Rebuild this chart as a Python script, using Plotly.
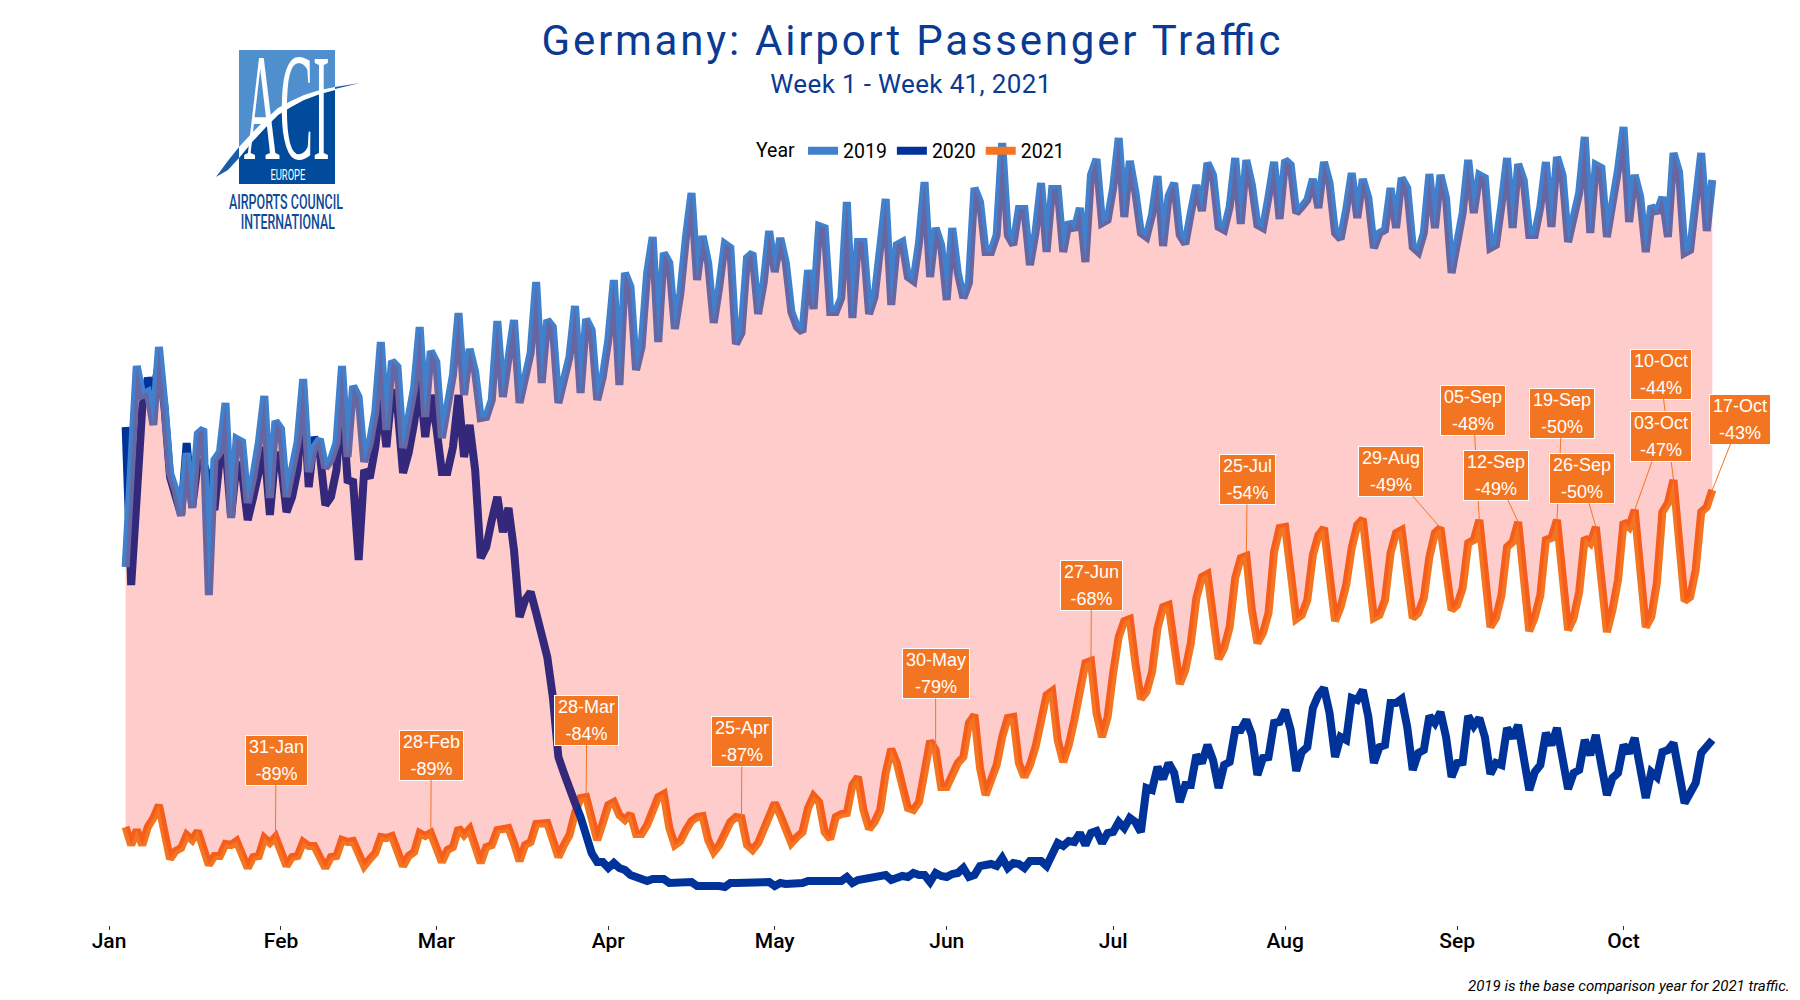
import pandas as pd
import plotly.graph_objects as go

start_date = "2019-01-04"
series_2019 = [
 329,426,530,501,504,471,549,491,423,406, 380,443,388,462,467,301,436,444,493,378,
 457,454,393,419,453,500,398,475,467,399, 426,454,517,424,449,457,428,436,453,530,
 439,510,499,434,453,484,554,466,535,529, 448,478,508,569,479,545,534,458,486,521,
 583,501,547,524,478,479,496,575,499,546, 576,493,519,543,614,513,576,569,493,513,
 539,590,503,577,566,496,519,556,616,511, 623,609,526,549,623,659,554,643,633,567,
 603,659,703,616,660,633,573,609,652,648, 552,563,638,643,582,613,665,624,658,633,
 584,569,564,626,587,670,668,584,584,598, 694,578,654,654,582,599,643,697,591,651,
 654,619,615,653,714,619,668,651,596,668, 623,598,613,708,694,644,644,661,753,661,
 651,687,687,631,663,713,644,707,707,644, 674,666,688,634,721,737,673,676,708,758,
 679,735,704,663,659,681,720,650,700,713, 661,652,683,711,685,733,721,669,666,689,
 738,672,736,711,671,668,699,734,677,736, 731,683,689,696,717,688,734,713,663,657,
 686,723,678,717,698,648,663,666,708,668, 718,708,649,644,663,722,668,721,698,623,
 653,683,736,683,721,718,648,651,691,738, 668,732,716,661,661,689,734,669,739,721,
 654,678,703,759,663,731,728,659,688,726, 769,674,721,699,644,690,683,699,659,743,
 724,643,646,689,743,665,716]
series_2020 = [
 469,311,399,489,518,503,533,489,419,403, 381,453,389,433,434,416,386,439,449,379,
 433,423,376,399,426,449,381,443,433,384, 399,426,506,409,459,443,391,399,426,499,
 416,414,336,426,418,449,499,449,506,489, 423,443,473,516,459,501,469,424,424,449,
 501,439,471,426,338,349,376,399,364,388, 346,279,296,304,283,263,239,199,139,123,
 106,93,79,63,43,34,34,28,33,28, 26,21,19,18,15,17,18,17,13,13,
 14,14,14,10,10,11,12,10,9,13, 13,13,13,14,13,13,14,10,13,12,
 12,13,13,15,15,14,14,14,14,15, 19,13,16,17,17,17,18,21,16,19,
 20,19,23,21,21,14,23,20,19,22, 23,28,19,21,30,31,32,30,38,28,
 33,32,28,35,36,35,30,41,53,50, 55,54,63,51,63,65,53,63,64,74,
 68,78,74,64,108,106,129,117,133,123, 94,111,111,141,133,151,136,108,131,134,
 166,166,176,161,121,138,139,173,174,186, 166,125,144,149,188,201,208,183,139,159,
 156,198,196,206,179,133,149,151,193,193, 197,169,126,143,146,180,173,184,159,119,
 133,134,180,170,178,159,122,133,131,168, 158,171,143,106,124,131,163,151,168,139,
 107,123,126,156,141,161,133,101,118,123, 151,143,158,131,98,124,119,144,146,153,
 126,93,103,113,143,151,156]
series_2021 = [
 69,51,66,51,69,78,91,58,37,45, 48,61,56,65,48,31,40,40,52,51,
 55,43,28,39,40,58,53,59,45,30, 39,40,54,50,50,39,28,39,40,56,
 54,55,42,30,37,43,59,58,60,44, 30,40,44,63,60,63,49,34,46,49,
 68,61,67,49,33,49,51,66,66,68, 53,35,51,54,72,73,73,56,39,51,
 61,83,98,99,79,56,73,91,94,81, 76,82,62,62,71,83,99,102,68,51,
 55,66,75,79,80,56,44,51,61,74, 79,78,51,46,53,68,81,93,81,66,
 53,59,64,88,100,94,64,57,79,82, 83,111,119,86,67,74,86,123,147,133,
 106,88,86,94,124,155,146,109,109,123, 133,139,173,181,128,101,114,131,159,178,
 179,133,119,131,149,176,201,205,156,134, 151,176,209,233,235,183,159,179,223,259,
 275,277,233,197,204,224,268,289,291,244, 212,226,253,298,319,322,279,237,248,269,
 318,338,340,286,253,263,283,344,368,369, 324,277,281,296,341,361,368,318,275,289,
 311,348,371,377,329,278,281,296,343,363, 366,324,278,283,298,339,363,368,319,286,
 291,308,353,356,376,319,269,278,301,349, 354,374,316,265,279,301,356,358,376,313,
 266,278,304,358,353,369,313,264,286,316, 374,369,386,326,269,279,313,384,393,416,
 349,295,299,326,384,389,406]

month_ticks = ["2019-%02d-01" % m for m in range(1, 11)]
month_labels = ["Jan","Feb","Mar","Apr","May","Jun","Jul","Aug","Sep","Oct"]

label_dates = ["2019-01-31","2019-02-28","2019-03-28","2019-04-25","2019-05-30","2019-06-27","2019-07-25",
               "2019-08-29","2019-09-05","2019-09-12","2019-09-19","2019-09-26","2019-10-10","2019-10-03","2019-10-17"]
label_pct = [-89,-89,-84,-87,-79,-68,-54,-49,-48,-49,-50,-50,-44,-47,-43]
label_dx = [0.6,0.5,0.7,0.5,0,0.5,1,-49.5,-6,-22,5,-14,-13,26.3,28]
label_dy = [-77,-78,-77,-76.5,-76.5,-76,-76.5,-57,-110,-47,-107,-49,-106,-73.5,-71]

BLUE, NAVY, ORANGE = "#4080CC", "#003399", "#F47521"
INK = "#0B3A92"
ML, MR, MT, MB = 109, 10, 100, 75
W, H = 1800, 1000
fx = lambda px: (px - ML) / (W - ML - MR)
fy = lambda py: 1 - (py - MT) / (H - MT - MB)

dates = pd.date_range(start_date, periods=len(series_2019))
assert len(series_2019) == len(series_2020) == len(series_2021) == 287
LW = 8
fig = go.Figure()
for name, vals, col in [("2021", series_2021, ORANGE), ("2020", series_2020, NAVY), ("2019", series_2019, BLUE)]:
    fig.add_trace(go.Scatter(x=dates, y=vals, mode="lines", name=name,
                             line=dict(color=col, width=LW), hoverinfo="x+y+name"))
fig.add_trace(go.Scatter(x=list(dates) + list(dates[::-1]), y=series_2019 + series_2021[::-1],
                         mode="lines", fill="toself", fillcolor="rgba(255,0,0,0.2)",
                         line=dict(width=0), showlegend=False, hoverinfo="skip"))

ann = []
for d, p, dx, dy in zip(label_dates, label_pct, label_dx, label_dy):
    ts = pd.Timestamp(d)
    v = series_2021[(ts - dates[0]).days]
    ann.append(dict(x=ts, y=v, xref="x", yref="y", ax=dx, ay=dy, text=f"{ts.strftime('%d-%b')}<br>{p}%",
                    showarrow=True, arrowhead=0, arrowwidth=1, arrowcolor=ORANGE, standoff=0,
                    bgcolor=ORANGE, bordercolor="white", borderwidth=1, borderpad=3,
                    font=dict(family="Liberation Sans", size=18, color="white"), align="center"))

def text(px, py, s, size, color, family="Roboto", xanchor="center", **kw):
    return dict(x=fx(px), y=fy(py), xref="paper", yref="paper", text=s, showarrow=False,
                xanchor=xanchor, yanchor="middle", font=dict(family=family, size=size, color=color, **kw))

ann += [
    text(911, 84, "Week 1 - Week 41, 2021", 26, INK),
    text(1792, 986, "2019 is the base comparison year for 2021 traffic.", 15, "black", xanchor="right", style="italic"),
    text(287, 108, "ACI", 153, "white", family="Liberation Serif"),
    text(287.5, 175, "EUROPE", 15, "white"),
    text(286, 202, "AIRPORTS COUNCIL", 21, "#0F4A96", weight=500),
    text(288, 222, "INTERNATIONAL", 21, "#0F4A96", weight=500),
]

def path(pts):
    return "M" + " L".join(f"{fx(a):.5f},{fy(b):.5f}" for a, b in pts) + " Z"

upper = [(239,147),(253,132),(266,119),(278,108),(291,101),(304,95),(320,90),(335,87)]
lower = [(335,90),(320,94),(304,100),(291,107),(278,115),(266,127),(253,141),(239,158)]
shapes = [
    dict(type="path", xref="paper", yref="paper", layer="below", line_width=0, fillcolor="#1B5CA8",
         path=path([(216,177),(227,162)] + upper + [(360,83),(335,89)] + lower + [(228,170)])),
    dict(type="rect", xref="paper", yref="paper", layer="below", line_width=0, fillcolor="#4F8FCD",
         x0=fx(239), x1=fx(335), y0=fy(184), y1=fy(50)),
    dict(type="path", xref="paper", yref="paper", layer="below", line_width=0, fillcolor="#004B9B",
         path=path(lower + [(239,184),(335,184)])),
    dict(type="path", xref="paper", yref="paper", layer="below", line_width=0, fillcolor="white",
         path=path(upper + lower)),
]

fig.update_layout(
    width=W, height=H, margin=dict(l=ML, r=MR, t=MT, b=MB), plot_bgcolor="white", paper_bgcolor="white",
    title=dict(text="Germany: Airport Passenger Traffic", x=911/W, xanchor="center", y=1-40/H, yanchor="middle",
               font=dict(family="Roboto", size=42, color=INK)),
    xaxis=dict(type="date", range=["2019-01-01", "2019-10-31"], tickvals=month_ticks, ticktext=month_labels,
               showgrid=False, zeroline=False, showline=False, ticks="outside", ticklen=4, tickwidth=1,
               tickcolor="#333333", ticklabelstandoff=-7,
               tickfont=dict(family="Roboto", size=21, color="black", weight=500)),
    yaxis=dict(visible=False, range=[-29, 796]),
    legend=dict(orientation="h", x=fx(754), xanchor="left", y=fy(151), yanchor="middle", traceorder="reversed",
                title=dict(text="Year", side="left", font=dict(family="Roboto", size=19.5, color="black")),
                font=dict(family="Roboto", size=19.5, color="black"), bgcolor="rgba(0,0,0,0)"),
    annotations=ann, shapes=shapes, showlegend=True,
)

post = """
document.body.style.margin='0';
function squeeze(){
  var widths={'ACI':[86,'spacingAndGlyphs'],'EUROPE':[35,'spacingAndGlyphs'],
              'AIRPORTS COUNCIL':[114,'spacingAndGlyphs'],'INTERNATIONAL':[94,'spacingAndGlyphs'],
              'Germany: Airport Passenger Traffic':[739,'spacing'],'Week 1 - Week 41, 2021':[281,'spacing']};
  document.querySelectorAll('.annotation-text, .gtitle').forEach(function(t){
    var w=widths[t.textContent];
    if(w){t.setAttribute('textLength',w[0]);t.setAttribute('lengthAdjust',w[1]);}
    var lines=t.querySelectorAll('tspan.line');
    if(lines.length==2 && !t.dataset.spread){
      t.dataset.spread='1';
      lines[0].setAttribute('y',parseFloat(lines[0].getAttribute('y'))-2);
      lines[1].setAttribute('y',parseFloat(lines[1].getAttribute('y'))+2);
    }
  });
}
squeeze();
setTimeout(squeeze,200);
"""
fig.write_html("out.html", post_script=post, config=dict(displayModeBar=False))
